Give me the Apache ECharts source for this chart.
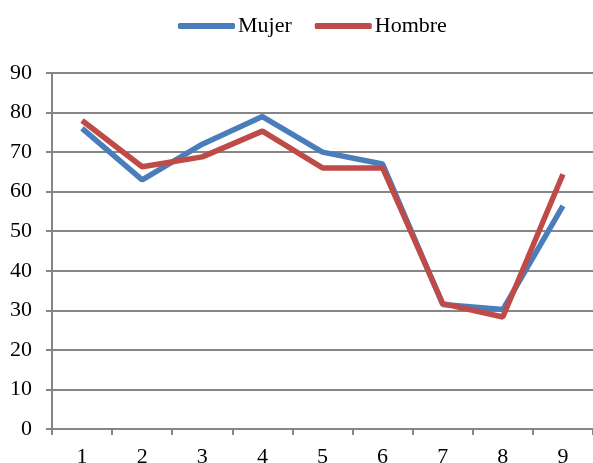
<!DOCTYPE html>
<html><head><meta charset="utf-8">
<script src="https://cdn.jsdelivr.net/npm/echarts@6/dist/echarts.min.js"></script>
<style>html,body{margin:0;padding:0;background:#fff}#c{width:593px;height:463px}</style>
</head><body><div id="c"></div>
<script>
var categories = ['1','2','3','4','5','6','7','8','9'];
var mujer = [76, 63, 72, 79, 70, 67, 31.5, 30.2, 56.4];
var hombre = [78, 66.3, 68.8, 75.3, 66, 66, 31.7, 28.3, 64.4];
var seriesNames = ['Mujer', 'Hombre'];
var font = '"Liberation Serif", "DejaVu Serif", serif';
var chart = echarts.init(document.getElementById('c'), null, {renderer: 'canvas'});
chart.setOption({
  animation: false,
  legend: {
    top: 10, left: 173,
    icon: 'roundRect', itemWidth: 57, itemHeight: 6, itemGap: 23,
    textStyle: {fontFamily: font, fontSize: 22, color: '#000', padding: [0,0,0,-2]},
    data: seriesNames
  },
  grid: {left: 52, right: 0, top: 73, bottom: 34, containLabel: false, outerBoundsMode: 'none'},
  xAxis: {
    type: 'category', data: categories, boundaryGap: true,
    axisLine: {lineStyle: {color: '#868686', width: 2}},
    axisTick: {show: true, length: 6, lineStyle: {color: '#868686', width: 2}},
    axisLabel: {fontFamily: font, fontSize: 22, color: '#000', margin: 17}
  },
  yAxis: {
    type: 'value', min: 0, max: 90, interval: 10,
    axisLine: {show: true, lineStyle: {color: '#868686', width: 2}},
    axisTick: {show: true, length: 6, lineStyle: {color: '#868686', width: 2}},
    splitLine: {lineStyle: {color: '#868686', width: 2}},
    axisLabel: {fontFamily: font, fontSize: 22, color: '#000', margin: 20}
  },
  series: [
    {name: seriesNames[0], type: 'line', data: mujer, symbol: 'none',
     lineStyle: {color: '#4a7ebb', width: 5.5}, itemStyle: {color: '#4a7ebb'}},
    {name: seriesNames[1], type: 'line', data: hombre, symbol: 'none',
     lineStyle: {color: '#be4b48', width: 5.5}, itemStyle: {color: '#be4b48'}}
  ]
});
</script></body></html>
